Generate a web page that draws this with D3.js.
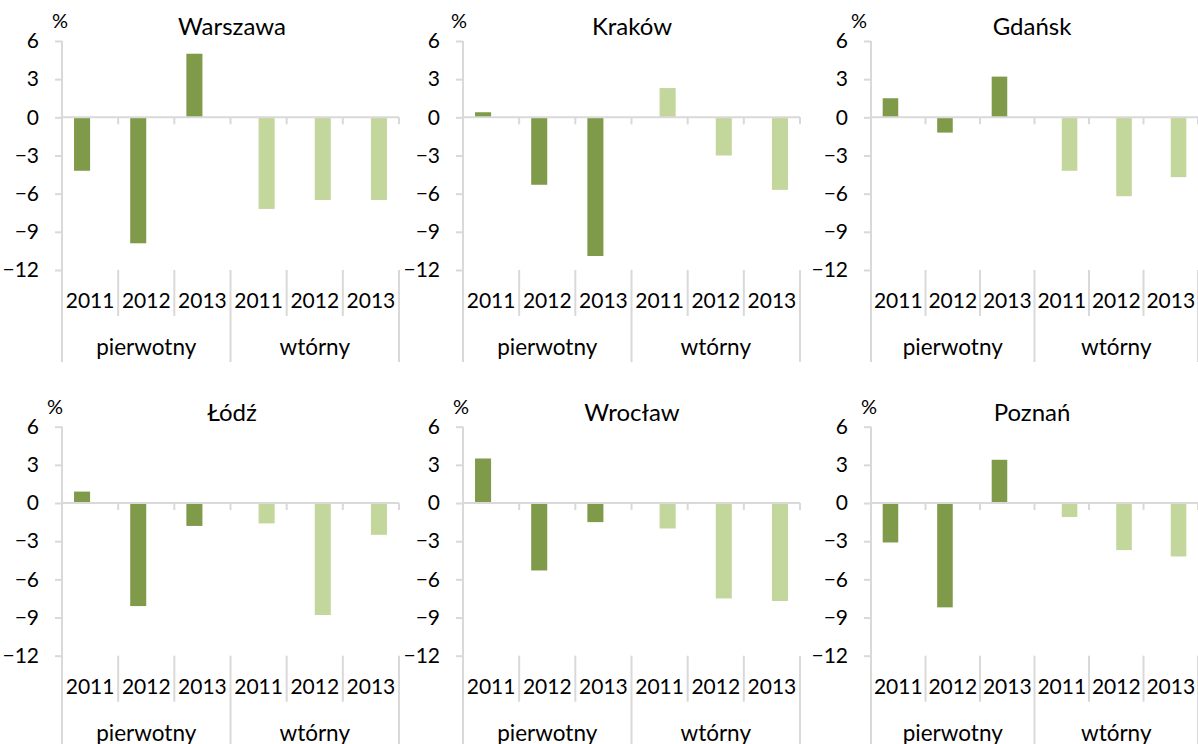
<!DOCTYPE html>
<html>
<head>
<meta charset="utf-8">
<script src="https://cdn.jsdelivr.net/npm/d3@7"></script>
<style>
    body { margin: 0; background: #fff; }
    svg { display: block; font-family: Lato, "Open Sans", sans-serif; }
    .axis-line { stroke: #d9d9d9; stroke-width: 2; fill: none; }
</style>
</head>
<body>
<svg></svg>
<script>
// Chart data: change in prices (%) per city, market and year.
var cities = ['Warszawa', 'Kraków', 'Gdańsk', 'Łódź', 'Wrocław', 'Poznań'];
var markets = ['pierwotny', 'wtórny'];
var years = ['2011', '2012', '2013'];
var pierwotny = [
    [-4.2, -9.9, 5.0],
    [0.4, -5.3, -10.9],
    [1.5, -1.2, 3.2],
    [0.9, -8.1, -1.8],
    [3.5, -5.3, -1.5],
    [-3.1, -8.2, 3.4]
];
var wtorny = [
    [-7.2, -6.5, -6.5],
    [2.3, -3.0, -5.7],
    [-4.2, -6.2, -4.7],
    [-1.6, -8.8, -2.5],
    [-2.0, -7.5, -7.7],
    [-1.1, -3.7, -4.2]
];
var yTicks = [6, 3, 0, -3, -6, -9, -12];
var unitLabel = '%';

var colors = { 'pierwotny': '#7f9a48', 'wtórny': '#c3d69b' };

//==========================================================================
// Layout of the 3x2 grid of small charts.

var width = 1198, height = 744;
var colLeft = [0, 400, 800];
var plotLeft = [62, 463, 871];
var plotRight = [399, 800, 1198];
var pctX = [[52, 451, 851], [47, 453, 861]];
var rowTop = [41, 426.7];
var plotHeight = 229;

var svg = d3.select('svg')
    .attr('width', width)
    .attr('height', height)
;

var categories = [];
markets.forEach(function(m) {
    years.forEach(function(y) {
        categories.push({ market: m, year: y, key: m + '|' + y });
    });
});

cities.forEach(function(city, i) {
    var col = i % 3, row = Math.floor(i / 3);
    var left = plotLeft[col];
    var right = plotRight[col];
    var top = rowTop[row];
    var bottom = top + plotHeight;

    var values = { 'pierwotny': pierwotny[i], 'wtórny': wtorny[i] };
    var bars = categories.map(function(c, j) {
        return { market: c.market, year: c.year, key: c.key, value: values[c.market][j % 3] };
    });

    var g = svg.append('g').classed('panel', true);

    var x0 = d3.scaleBand()
        .domain(categories.map(function(c) { return c.key; }))
        .range([left, right])
    ;
    // Two series per category (one is empty), as in a clustered bar chart.
    var x1 = d3.scaleBand()
        .domain(markets)
        .range([0, x0.bandwidth()])
        .paddingOuter(0.75)
    ;
    var y = d3.scaleLinear()
        .domain([-12, 6])
        .range([bottom, top])
    ;

    // Bars
    g.selectAll('.bar')
        .data(bars)
        .enter()
        .append('rect')
        .classed('bar', true)
        .attr('x', function(d) { return x0(d.key) + x1(d.market); })
        .attr('width', x1.bandwidth())
        .attr('y', function(d) { return y(Math.max(0, d.value)); })
        .attr('height', function(d) { return Math.abs(y(d.value) - y(0)); })
        .style('fill', function(d) { return colors[d.market]; })
    ;

    // Value axis
    var yAxis = g.append('g')
        .attr('transform', 'translate(' + left + ',0)')
        .call(d3.axisLeft(y).tickValues(yTicks).tickSize(7).tickPadding(16).tickSizeOuter(0))
    ;
    yAxis.select('.domain').remove();
    yAxis.selectAll('.tick line').attr('class', 'axis-line');
    yAxis.selectAll('.tick text')
        .style('font-size', '21px')
        .style('fill', '#000')
    ;
    yAxis.attr('font-family', null).attr('font-size', null);

    // Axis line running down the left edge
    g.append('line')
        .attr('class', 'axis-line')
        .attr('x1', left).attr('x2', left)
        .attr('y1', top).attr('y2', bottom + 92)
    ;

    // Zero line with its small ticks
    g.append('line')
        .attr('class', 'axis-line')
        .attr('x1', left).attr('x2', right)
        .attr('y1', y(0)).attr('y2', y(0))
    ;
    g.selectAll('.zero-tick')
        .data(categories)
        .enter()
        .append('line')
        .attr('class', 'axis-line')
        .attr('x1', function(d) { return x0(d.key) + x0.bandwidth(); })
        .attr('x2', function(d) { return x0(d.key) + x0.bandwidth(); })
        .attr('y1', y(0))
        .attr('y2', y(0) + 7)
    ;

    // Category separators below the plot
    g.selectAll('.sep')
        .data(categories)
        .enter()
        .append('line')
        .attr('class', 'axis-line')
        .attr('x1', function(d) { return x0(d.key) + x0.bandwidth(); })
        .attr('x2', function(d) { return x0(d.key) + x0.bandwidth(); })
        .attr('y1', bottom)
        .attr('y2', function(d) { return d.year === years[years.length - 1] ? bottom + 92 : bottom + 46; })
    ;

    // Year labels
    g.selectAll('.year')
        .data(categories)
        .enter()
        .append('text')
        .attr('x', function(d) { return x0(d.key) + x0.bandwidth() / 2; })
        .attr('y', bottom + 38)
        .attr('text-anchor', 'middle')
        .style('font-size', '21px')
        .text(function(d) { return d.year; })
    ;

    // Market group labels
    g.selectAll('.market')
        .data(markets)
        .enter()
        .append('text')
        .attr('x', function(m) {
            return (x0(m + '|' + years[0]) + x0(m + '|' + years[2]) + x0.bandwidth()) / 2;
        })
        .attr('y', bottom + 85)
        .attr('text-anchor', 'middle')
        .style('font-size', '22.5px')
        .text(function(m) { return m; })
    ;

    // Title and unit
    g.append('text')
        .attr('x', colLeft[col] + 232)
        .attr('y', top - 6)
        .attr('text-anchor', 'middle')
        .style('font-size', '24px')
        .text(city)
    ;
    g.append('text')
        .attr('x', pctX[row][col])
        .attr('y', top - 13)
        .style('font-size', '20px')
        .text(unitLabel)
    ;
});
</script>
</body>
</html>
